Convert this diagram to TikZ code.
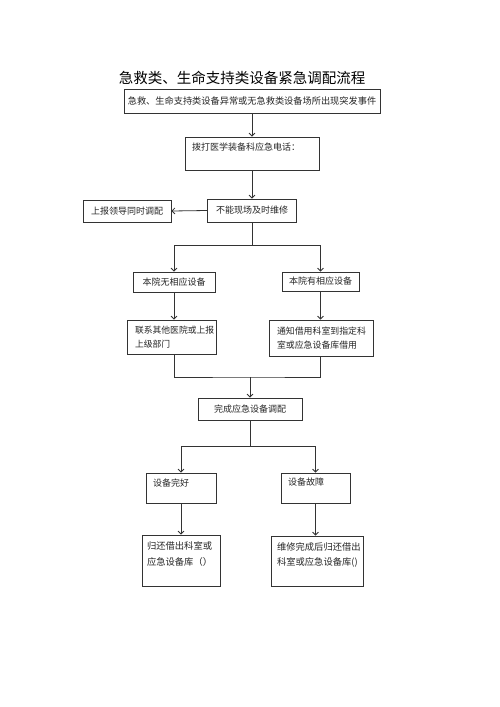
\documentclass[tikz,border=0pt]{standalone}
\usepackage{fontspec}
\setmainfont{Noto Sans CJK SC}
\usetikzlibrary{arrows.meta}
\newcommand\tbx[5]{\parbox[c][#2pt][t]{#1pt}{\raggedright\leftskip=#4pt\relax\vspace*{#3pt}#5}}
\newcommand\cbx[4]{\parbox[c][#2pt][c]{#1pt}{\raggedright\leftskip=#3pt\relax #4}}
\begin{document}
\begin{tikzpicture}[x=1pt,y=-1pt,
  box/.style={draw=black!80, line width=0.8pt, inner sep=0pt, text=black!85,
    font=\fontsize{9}{14}\selectfont},
  cbox/.style={box, align=center},
  ln/.style={draw=black!80, line width=0.8pt},
  arr/.style={ln, -{Straight Barb[length=3pt,width=6pt]}}]
\useasboundingbox[fill=white] (0,0) rectangle (500,707);
\node[font=\fontsize{14.5}{16}\selectfont, text=black] (title) at (242,78) {急救类、生命支持类设备紧急调配流程};
\node[cbox, minimum width=256pt, minimum height=24pt, font=\fontsize{9.2}{14}\selectfont] (b1) at (252,101) {急救、生命支持类设备异常或无急救类设备场所出现突发事件};
\node[box] (b2) at (252,153.5) {\tbx{134}{33}{6}{7}{拨打医学装备科应急电话：}};
\node[cbox, minimum width=89pt, minimum height=23pt] (b3) at (252,210.5) {不能现场及时维修};
\node[cbox, minimum width=88pt, minimum height=22pt] (bL) at (127,211) {上报领导同时调配};
\node[cbox, minimum width=82pt, minimum height=20pt] (b4) at (174,282) {本院无相应设备};
\node[cbox, minimum width=77pt, minimum height=19pt] (b5) at (320.5,281.5) {本院有相应设备};
\node[box, font=\fontsize{8.8}{13.5}\selectfont] (b6) at (171.5,337) {\cbx{89}{34}{8}{联系其他医院或上报\\上级部门}};
\node[box, font=\fontsize{8.9}{14}\selectfont] (b7) at (321,338) {\cbx{104}{36}{8}{通知借用科室到指定科\\室或应急设备库借用}};
\node[cbox, minimum width=104pt, minimum height=22pt] (b8) at (250,409) {完成应急设备调配};
\node[box] (b9) at (181,488) {\tbx{70}{30}{5.5}{7}{设备完好}};
\node[box] (b10) at (315.5,488) {\tbx{69}{30}{5}{7}{设备故障}};
\node[box, font=\fontsize{9.3}{16}\selectfont] (b11) at (181,560.5) {\tbx{78}{51}{7}{5}{归还借出科室或\\应急设备库（）}};
\node[box, font=\fontsize{9.3}{15}\selectfont] (b12) at (317,561) {\tbx{92}{50}{7}{6}{维修完成后归还借出\\科室或应急设备库()}};
\coordinate (s1) at (252,245);
\coordinate (m1) at (250,377);
\coordinate (s2) at (250,446);
\draw[arr] (b1.south) -- (b2.north);
\draw[arr] (b2.south) -- (b3.north);
\draw[arr] (b3.west) -- (bL.east);
\draw[ln] (b3.south) -- (s1);
\draw[arr] (s1) -| (b4.north);
\draw[arr] (s1) -| (b5.north);
\draw[arr] (b4.south) -- (b4.south |- b6.north);
\draw[arr] (b5.south) -- (b5.south |- b7.north);
\draw[ln] (b4.south |- b6.south) |- (m1) -| (b5.south |- b7.south);
\draw[arr] (m1) -- (b8.north);
\draw[ln] (b8.south) -- (s2);
\draw[arr] (s2) -| (b9.north);
\draw[arr] (s2) -| (b10.north);
\draw[arr] (b9.south) -- (b11.north);
\draw[arr] (b10.south) -- (b10.south |- b12.north);
\end{tikzpicture}
\end{document}
